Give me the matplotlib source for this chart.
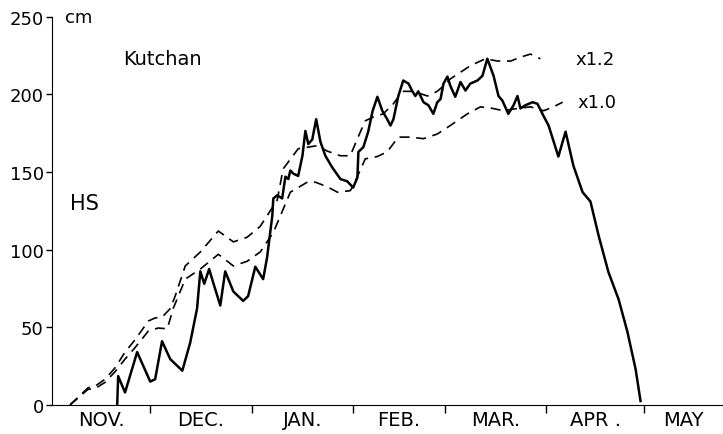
import matplotlib
matplotlib.use('Agg')
import matplotlib.pyplot as plt

matplotlib.rcParams['font.family'] = 'DejaVu Sans'
matplotlib.rcParams['font.size'] = 13

# days since 1 Nov, snow depth in cm
hs_day = [19.9, 20.2, 22.3, 26.0, 30.0, 31.5, 33.6, 36.1, 39.8, 42.2, 44.3, 45.3, 46.5, 48.0,
          49.2, 51.4, 52.9, 55.4, 58.4, 59.9, 62.1, 64.5, 65.7, 67.3, 67.6, 68.8, 70.3, 71.3,
          72.2, 72.8, 73.7, 75.2, 76.5, 77.4, 78.3, 79.5, 80.7, 82.0, 83.5, 85.6, 88.1, 90.2,
          92.0, 93.3, 93.6, 95.1, 96.6, 97.9, 99.4, 100.9, 102.4, 103.4, 104.3, 105.8, 107.3,
          108.9, 110.1, 111.0, 111.9, 113.5, 115.0, 116.5, 117.7, 118.7, 119.6, 120.8, 121.7,
          123.2, 124.8, 126.3, 127.8, 130.0, 131.5, 133.0, 134.9, 136.4, 137.6, 139.4, 141.0,
          142.2, 143.1, 144.6, 146.8, 148.3, 150.2, 151.7, 152.3, 154.7, 156.9, 159.3, 162.1,
          164.5, 167.0, 170.0, 173.1, 175.8, 178.3, 179.8]
hs_cm = [0, 18.5, 8, 34, 15, 16.5, 41, 29.5, 22, 40, 62, 86, 78, 87.5,
         79, 64, 86, 73, 67, 70, 89, 81, 95, 122, 133, 135, 133, 147,
         145.5, 151, 149, 147.5, 160.5, 176.5, 168, 171, 184, 169.5, 160.5, 153, 145.5, 144,
         140, 146.5, 163, 166, 176, 189, 198.5, 189.5, 184, 180, 184, 199, 209,
         207, 202, 199, 202, 195, 193, 187.5, 195, 197, 207, 211.5, 205.5,
         198.5, 208, 202.5, 207, 209, 212, 223, 212, 199, 196, 187.5, 193,
         199, 191, 193, 195, 194, 186, 180, 176, 160, 176, 154, 137,
         131, 109, 85.5, 68, 47, 23, 2.5]

x12_day = [5.5, 11.0, 13.1, 16.2, 19.3, 22.3, 25.4, 29.4, 31.5, 33.6, 36.1, 37.6, 40.7, 45.3,
           50.8, 55.4, 59.6, 63.6, 68.8, 70.6, 75.2, 81.0, 84.1, 88.1, 91.1, 93.6, 95.7, 98.2,
           101.2, 104.3, 107.0, 110.4, 114.7, 117.7, 119.6, 121.7, 127.8, 132.4, 136.1, 140.1,
           143.1, 146.2, 149.2]
x12_cm = [0, 11, 12, 16.5, 24, 34, 42, 54, 56, 56.5, 62, 70, 89.5, 98.5,
          112, 105, 108, 115, 132, 152, 165, 167, 163.5, 160.5, 160.5, 173, 183, 185.5,
          187.5, 194, 202, 202, 199, 202, 205.5, 210, 218.5, 223, 221.5, 221.5,
          224, 226, 223]

x10_day = [5.5, 11.0, 13.1, 16.2, 19.3, 22.3, 25.4, 29.4, 32.4, 35.2, 37.0, 40.7, 45.3, 50.8,
           55.4, 59.6, 63.6, 67.6, 72.8, 78.0, 80.4, 84.1, 87.2, 91.1, 92.0, 95.7, 99.4, 102.4,
           105.8, 109.5, 113.5, 117.7, 121.7, 126.9, 130.9, 134.6, 137.9, 142.2, 146.2, 150.2,
           153.2, 156.0]
x10_cm = [0, 10, 10.5, 14.5, 21.5, 29.5, 37, 47.5, 49.5, 49, 62, 81, 87.5, 97,
          89.5, 92.5, 98.5, 111, 137, 143.5, 143.5, 140.5, 137, 138, 141, 158.5, 160, 163,
          172.5, 172.5, 171.5, 174.5, 180, 187.5, 192, 191, 189.5, 191, 192, 189.5,
          192, 195]

month_start = [30, 61, 92, 120, 151, 181]
month_labels = ['NOV.', 'DEC.', 'JAN.', 'FEB.', 'MAR.', 'APR .', 'MAY']
month_mid = [15, 45.5, 76.5, 106, 135.5, 166, 193]

fig = plt.figure(figsize=(7.23, 4.35), dpi=100)
ax = fig.add_axes([0.072, 0.067, 0.928, 0.892])

ax.plot(hs_day, hs_cm, '-', color='black', lw=1.8)
ax.plot(x12_day, x12_cm, '--', color='black', lw=1.2, dashes=(6, 4))
ax.plot(x10_day, x10_cm, '--', color='black', lw=1.2, dashes=(6, 4))

ax.set_xlim(0, 205)
ax.set_ylim(0, 250)
ax.spines['top'].set_visible(False)
ax.spines['right'].set_visible(False)

ax.set_yticks([0, 50, 100, 150, 200, 250])
ax.tick_params(axis='y', direction='out', length=4, width=1, labelsize=13, pad=2)
ax.set_xticks(month_start)
ax.set_xticklabels([])
ax.set_xticks(month_mid, minor=True)
ax.set_xticklabels(month_labels, minor=True)
ax.tick_params(axis='x', which='major', direction='out', length=6, width=1)
ax.tick_params(axis='x', which='minor', length=0, labelsize=14, pad=4)

ax.text(4, 250, 'cm', fontsize=13, va='center', ha='left')
ax.text(21.7, 223, 'Kutchan', fontsize=14, va='center', ha='left')
ax.text(5.5, 130, 'HS', fontsize=15, va='center', ha='left')
ax.text(160, 223, 'x1.2', fontsize=13, va='center', ha='left')
ax.text(160.5, 195, 'x1.0', fontsize=13, va='center', ha='left')

plt.savefig('out.png', dpi=100)
